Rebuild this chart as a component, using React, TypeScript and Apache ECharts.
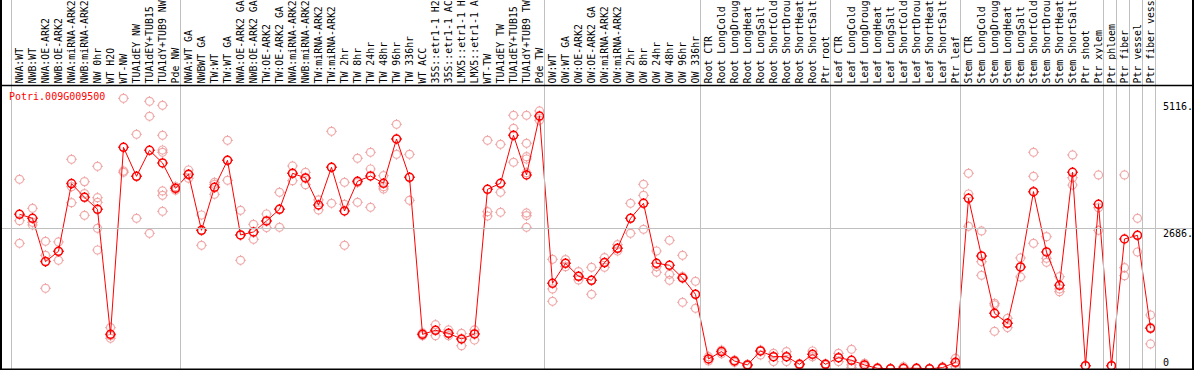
import React, { useEffect, useRef } from "react";
import * as echarts from "echarts";

const geneId = "Potri.009G009500";

// Sample labels as they appear in the reference (long names are cut at 14 characters there)
const categories = [
  "NWA:WT", "NWB:WT", "NWA:OE-ARK2", "NWB:OE-ARK2", "NWA:miRNA-ARK2", "NWB:miRNA-ARK2",
  "NW 0hr", "WT H2O", "WT-NW", "TUA1dEY NW", "TUA1dEY+TUB15", "TUA1dY+TUB9 NW", "Pde NW",
  "NWA:WT GA", "NWBWT GA", "TW:WT", "TW:WT GA", "NWA:OE-ARK2 GA", "NWB:OE-ARK2 GA",
  "TW:OE-ARK2", "TW:OE-ARK2 GA", "NWA:miRNA-ARK2", "NWB:miRNA-ARK2", "TW:miRNA-ARK2",
  "TW:miRNA-ARK2", "TW 2hr", "TW 8hr", "TW 24hr", "TW 48hr", "TW 96hr", "TW 336hr",
  "WT ACC", "35S::etr1-1 H2", "35S::etr1-1 AC", "LMX5::etr1-1 H", "LMX5::etr1-1 A",
  "WT-TW", "TUA1dEY TW", "TUA1dEY+TUB15", "TUA1dY+TUB9 TW", "Pde TW",
  "OW:WT", "OW:WT GA", "OW:OE-ARK2", "OW:OE-ARK2 GA", "OW:miRNA-ARK2", "OW:miRNA-ARK2",
  "OW 2hr", "OW 8hr", "OW 24hr", "OW 48hr", "OW 96hr", "OW 336hr",
  "Root CTR", "Root LongCold", "Root LongDroug", "Root LongHeat", "Root LongSalt",
  "Root ShortCold", "Root ShortDrou", "Root ShortHeat", "Root ShortSalt", "Ptr root",
  "Leaf CTR", "Leaf LongCold", "Leaf LongDroug", "Leaf LongHeat", "Leaf LongSalt",
  "Leaf ShortCold", "Leaf ShortDrou", "Leaf ShortHeat", "Leaf ShortSalt", "Ptr leaf",
  "Stem CTR", "Stem LongCold", "Stem LongDroug", "Stem LongHeat", "Stem LongSalt",
  "Stem ShortCold", "Stem ShortDrou", "Stem ShortHeat", "Stem ShortSalt",
  "Ptr shoot", "Ptr xylem", "Ptr phloem", "Ptr fiber", "Ptr vessel", "Ptr fiber vess",
];

const meanValues = [
  2953, 2877, 2050, 2247, 3539, 3278, 3049, 662, 4232, 3679,
  4175, 3933, 3449, 3717, 2648, 3468, 3984, 2559, 2616, 2826,
  3049, 3736, 3647, 3131, 3850, 3017, 3583, 3685, 3545, 4391,
  3659, 662, 739, 681, 573, 669, 3430, 3545, 4461, 3704,
  4830, 1636, 2018, 1770, 1693, 2031, 2304, 2877, 3163, 2018,
  1980, 1738, 1426, 192, 332, 153, 77, 344, 236, 236,
  90, 281, 90, 217, 166, 77, 13, 3, 13, 13,
  3, 26, 128, 3258, 2158, 1063, 872, 1948, 3386, 2234,
  1598, 3755, 64, 3144, 64, 2482, 2552, 777,
];

const replicateValues = [
  [3621, 2832, 2400], [3068, 2800, 2749], [2438, 2170, 1541], [2425, 2241, 2075],
  [4003, 3481, 3176], [3577, 3348, 2934], [3869, 3271, 3182, 2686, 2272], [790, 637, 586],
  [5167, 3780, 3755], [4480, 3679, 2877], [5110, 4824, 2590],
  [5034, 4461, 4181, 4137, 3399, 3316, 3010], [3481, 3449, 3411],
  [3799, 3704, 3640], [2940, 2648, 2361], [3564, 3526, 3335], [4366, 3984, 3602],
  [3029, 2559, 2075], [2762, 2609, 2476], [2959, 2826, 2699], [3373, 3055, 2705],
  [3876, 3736, 3596], [3755, 3647, 3519], [3227, 3131, 3036], [4537, 3850, 3163],
  [3564, 3144, 2361], [4022, 3558, 3182], [4137, 3818, 3087], [3691, 3481, 3437],
  [4671, 4391, 4098], [4098, 3659, 3220], [688, 662, 637], [847, 739, 637],
  [745, 681, 637], [681, 573, 446], [745, 669, 554], [4366, 3004, 2921],
  [4289, 3373, 2991], [4843, 4595, 3946],
  [4843, 4308, 4054, 4009, 3748, 2979, 2928, 2705], [4926, 4817, 4747],
  [2094, 1528, 1292], [2088, 2018, 1954], [1859, 1770, 1700], [1941, 1693, 1426],
  [2126, 2031, 1941], [2374, 2304, 2253], [3163, 2877, 2590], [3526, 3316, 2667],
  [2253, 1954, 1846], [2457, 1808, 1693], [2170, 1763, 1273], [1674, 1426, 1159],
  [236, 192, 153], [363, 332, 293], [172, 153, 128], [90, 77, 58], [363, 344, 268],
  [300, 236, 141], [332, 236, 141], [102, 90, 71], [344, 281, 236], [102, 90, 77],
  [300, 217, 141], [376, 77, 26], [109, 77, 45], [26, 13, 0], [10, 3, 0], [45, 13, 0],
  [20, 13, 5], [10, 3, 0], [40, 26, 13], [204, 109, 45],
  [3736, 3341, 2724], [2635, 2050, 1789], [1254, 1222, 720], [968, 872, 790],
  [2120, 1948, 1757], [4137, 3679, 2400], [2527, 2113, 2037], [1763, 1528, 1477],
  [4086, 3653, 3513], [64], [3704, 3080, 2648], [64], [3704, 1935, 1782],
  [2877, 2552, 2234], [1031, 796, 478],
];

const groupStarts = [0, 13, 41, 53, 63, 73, 84, 85, 86, 87, 88];
const yTickValues = [0, 2686, 5116];
const yGridValues = [2686];

const WIDTH = 1194;
const HEIGHT = 370;
const PLOT_TOP = 85;
const PLOT_BOTTOM = 369;
const X_MIN = -1.5;
const X_MAX = 90.346;
const UNITS_PER_PX = 19.09;
const FONT = "'DejaVu Sans Mono', monospace";
const GRID_COLOR = "#c0c0c0";

const markerPath =
  "path://M0,-5.3L0,-4M0,4L0,5.3M-5.3,0L-4,0M4,0L5.3,0" +
  "M4,0C4,2.21 2.21,4 0,4C-2.21,4 -4,2.21 -4,0C-4,-2.21 -2.21,-4 0,-4C2.21,-4 4,-2.21 4,0Z";

export default function App() {
  const ref = useRef<HTMLDivElement>(null);

  useEffect(() => {
    if (!ref.current) return;
    const chart = echarts.init(ref.current, null, { renderer: "svg" });

    const meanPoints = meanValues.map((v, i) => [i, v]);
    const replicatePoints: number[][] = [];
    replicateValues.forEach((reps, i) => reps.forEach((v) => replicatePoints.push([i, v])));

    const fullMax = PLOT_BOTTOM * UNITS_PER_PX;
    const plotMax = (PLOT_BOTTOM - PLOT_TOP) * UNITS_PER_PX;

    const option: any = {
      animation: false,
      backgroundColor: "#ffffff",
      title: {
        text: geneId,
        left: 9,
        top: 91,
        padding: 0,
        z: 10,
        textStyle: { color: "#ff0000", fontFamily: FONT, fontSize: 10, fontWeight: "normal" },
      },
      grid: [
        { left: 0, right: 0, top: 0, bottom: HEIGHT - PLOT_BOTTOM, containLabel: false, outerBoundsMode: "none" },
        { left: 0, right: 0, top: PLOT_TOP, bottom: HEIGHT - PLOT_BOTTOM, containLabel: false, outerBoundsMode: "none" },
      ],
      xAxis: [
        {
          gridIndex: 0,
          type: "value",
          min: X_MIN,
          max: X_MAX,
          show: false,
          splitLine: { show: false },
        },
        {
          gridIndex: 1,
          type: "value",
          min: X_MIN,
          max: X_MAX,
          position: "top",
          axisLine: { show: false },
          axisTick: { show: false },
          splitLine: { show: false },
          axisLabel: {
            customValues: categories.map((_, i) => i),
            formatter: (v: number) => categories[Math.round(v)] ?? "",
            rotate: 90,
            margin: 1.5,
            fontFamily: FONT,
            fontSize: 9.9,
            color: "#000000",
            hideOverlap: false,
          },
        },
      ],
      yAxis: [
        { gridIndex: 0, type: "value", min: 0, max: fullMax, show: false, splitLine: { show: false } },
        { gridIndex: 1, type: "value", min: 0, max: plotMax, show: false, splitLine: { show: false } },
      ],
      series: [
        {
          type: "line",
          xAxisIndex: 0,
          yAxisIndex: 0,
          data: [],
          silent: true,
          z: 1,
          markLine: {
            silent: true,
            symbol: "none",
            label: { show: false },
            lineStyle: { color: GRID_COLOR, width: 1, type: "solid" },
            data: [
              ...groupStarts.map((b) => ({ xAxis: b - 0.65 })),
              ...yGridValues.map((v) => ({ yAxis: v })),
            ],
          },
        },
        {
          type: "scatter",
          xAxisIndex: 1,
          yAxisIndex: 1,
          data: replicatePoints,
          symbol: markerPath,
          symbolSize: 10.6,
          silent: true,
          clip: false,
          z: 3,
          itemStyle: { color: "rgba(0,0,0,0)", borderColor: "#ec9494", borderWidth: 1.2 },
        },
        {
          type: "line",
          xAxisIndex: 1,
          yAxisIndex: 1,
          data: meanPoints,
          symbol: markerPath,
          symbolSize: 10.6,
          showAllSymbol: true,
          silent: true,
          clip: false,
          z: 4,
          lineStyle: { color: "#ff0000", width: 1 },
          itemStyle: { color: "rgba(0,0,0,0)", borderColor: "#ff0000", borderWidth: 1.5 },
        },
      ],
    };
    chart.setOption(option);

    const labelX = 1163;
    const yLabels = yTickValues.map((v) => {
      const py = chart.convertToPixel({ yAxisIndex: 1 }, v) as number;
      return {
        type: "text",
        x: labelX,
        y: v === 0 ? py - 7 : py + 5,
        z: 20,
        style: {
          text: v === 0 ? "0" : `${v}.`,
          fill: "#000000",
          fontFamily: FONT,
          fontSize: 10,
          align: "left",
          verticalAlign: "middle",
        },
      };
    });

    const frame = [
      { type: "line", z: 30, shape: { x1: 1, y1: 0, x2: 1, y2: PLOT_BOTTOM + 1 }, style: { stroke: "#000", lineWidth: 2 } },
      { type: "line", z: 30, shape: { x1: WIDTH - 1, y1: 0, x2: WIDTH - 1, y2: PLOT_BOTTOM + 1 }, style: { stroke: "#000", lineWidth: 2 } },
      { type: "line", z: 30, shape: { x1: 0, y1: PLOT_TOP + 0.5, x2: WIDTH, y2: PLOT_TOP + 0.5 }, style: { stroke: "#000", lineWidth: 1.5 } },
      { type: "line", z: 30, shape: { x1: 0, y1: PLOT_BOTTOM + 0.5, x2: WIDTH, y2: PLOT_BOTTOM + 0.5 }, style: { stroke: "#000", lineWidth: 2 } },
    ];

    chart.setOption({ graphic: [...frame, ...yLabels] });

    return () => chart.dispose();
  }, []);

  return (
    <div
      ref={ref}
      style={{ position: "absolute", left: 0, top: 0, width: WIDTH, height: HEIGHT }}
    />
  );
}
